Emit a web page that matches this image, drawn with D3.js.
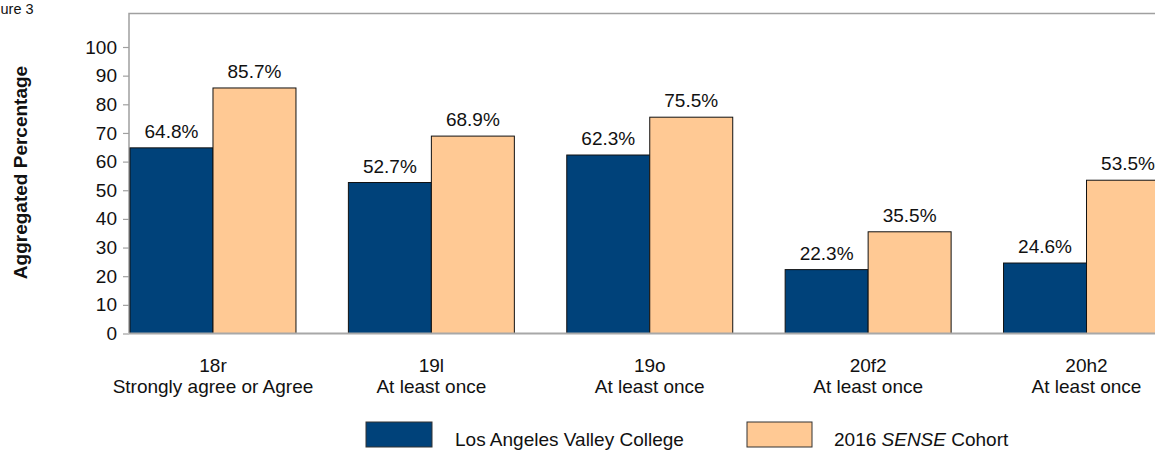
<!DOCTYPE html>
<html><head><meta charset="utf-8">
<script src="https://cdn.jsdelivr.net/npm/d3@7"></script>
<style>body{margin:0;background:#fff;}svg{display:block;font-family:"Liberation Sans",Arial,sans-serif;}</style>
</head><body>
<svg id="c" width="1155" height="450"></svg>
<script>
const categories = ["18r","19l","19o","20f2","20h2"];
const subLabels = ["Strongly agree or Agree","At least once","At least once","At least once","At least once"];
const collegeValues = [64.8,52.7,62.3,22.3,24.6];
const cohortValues = [85.7,68.9,75.5,35.5,53.5];
const yTicks = [0,10,20,30,40,50,60,70,80,90,100];
const seriesNames = ["Los Angeles Valley College","2016 SENSE Cohort"];
const colors = ["#00427A","#FFC994"];

(function(){
const svg = d3.select("#c");
const FS = 19;
const mLeft = 129, mTop = 13.5, mBottom = 333;
const y = d3.scaleLinear().domain([0,100]).range([333.5,47]);
const x = d3.scaleBand().domain(categories).range([130,1169.5]).paddingInner(0.24).paddingOuter(0);
const xs = d3.scaleBand().domain([0,1]).range([0,x.bandwidth()]);

svg.append("text").attr("x",0.5).attr("y",14).attr("font-size",14.5).attr("fill","#111").text("ure 3");

svg.append("path").attr("d",`M${mLeft},${mBottom}V${mTop}H1160`).attr("fill","none").attr("stroke","#a0a0a0").attr("stroke-width",1.5);

const series = [collegeValues, cohortValues];
series.forEach((vals,si)=>{
  svg.append("g").selectAll("rect").data(vals).join("rect")
    .attr("x",(d,i)=>x(categories[i])+xs(si))
    .attr("y",d=>y(d))
    .attr("width",xs.bandwidth())
    .attr("height",d=>y(0)-y(d))
    .attr("fill",colors[si]).attr("stroke","#111").attr("stroke-width",1);
  svg.append("g").selectAll("text").data(vals).join("text")
    .attr("x",(d,i)=>x(categories[i])+xs(si)+xs.bandwidth()/2)
    .attr("y",d=>y(d)-10)
    .attr("text-anchor","middle").attr("font-size",FS).attr("fill","#111")
    .text(d=>d.toFixed(1)+"%");
});

const ya = svg.append("g").attr("transform",`translate(${mLeft},0)`)
  .call(d3.axisLeft(y).tickValues(yTicks).tickSize(6).tickPadding(6));
ya.select(".domain").remove();
ya.selectAll(".tick line").attr("stroke","#a0a0a0").attr("stroke-width",1.2);
ya.selectAll(".tick text").attr("font-size",FS).attr("fill","#111").attr("font-family","Liberation Sans, Arial, sans-serif");

svg.append("line").attr("x1",mLeft).attr("x2",1160).attr("y1",y(0)).attr("y2",y(0)).attr("stroke","#a8a8a8").attr("stroke-width",2);

const xl = svg.append("g");
categories.forEach((c,i)=>{
  const cx = x(c)+x.bandwidth()/2;
  const t = xl.append("text").attr("x",cx).attr("y",372).attr("text-anchor","middle").attr("font-size",FS).attr("fill","#111");
  t.append("tspan").attr("x",cx).attr("dy",0).text(c);
  t.append("tspan").attr("x",cx).attr("dy",21).text(subLabels[i]);
});

svg.append("text").attr("transform","translate(27,172.5) rotate(-90)").attr("text-anchor","middle")
  .attr("font-size",FS).attr("font-weight","bold").attr("fill","#111").text("Aggregated Percentage");

const leg = [{x:366,w:66},{x:747,w:65}];
leg.forEach((l,i)=>{
  svg.append("rect").attr("x",l.x).attr("y",422).attr("width",l.w).attr("height",25).attr("fill",colors[i]).attr("stroke","#333").attr("stroke-width",1);
});
svg.append("text").attr("x",455).attr("y",446).attr("font-size",FS).attr("fill","#111").text(seriesNames[0]);
const t2 = svg.append("text").attr("x",834).attr("y",446).attr("font-size",FS).attr("fill","#111");
t2.append("tspan").text("2016 ");
t2.append("tspan").attr("font-style","italic").text("SENSE");
t2.append("tspan").text(" Cohort");
})();
</script>
</body></html>
